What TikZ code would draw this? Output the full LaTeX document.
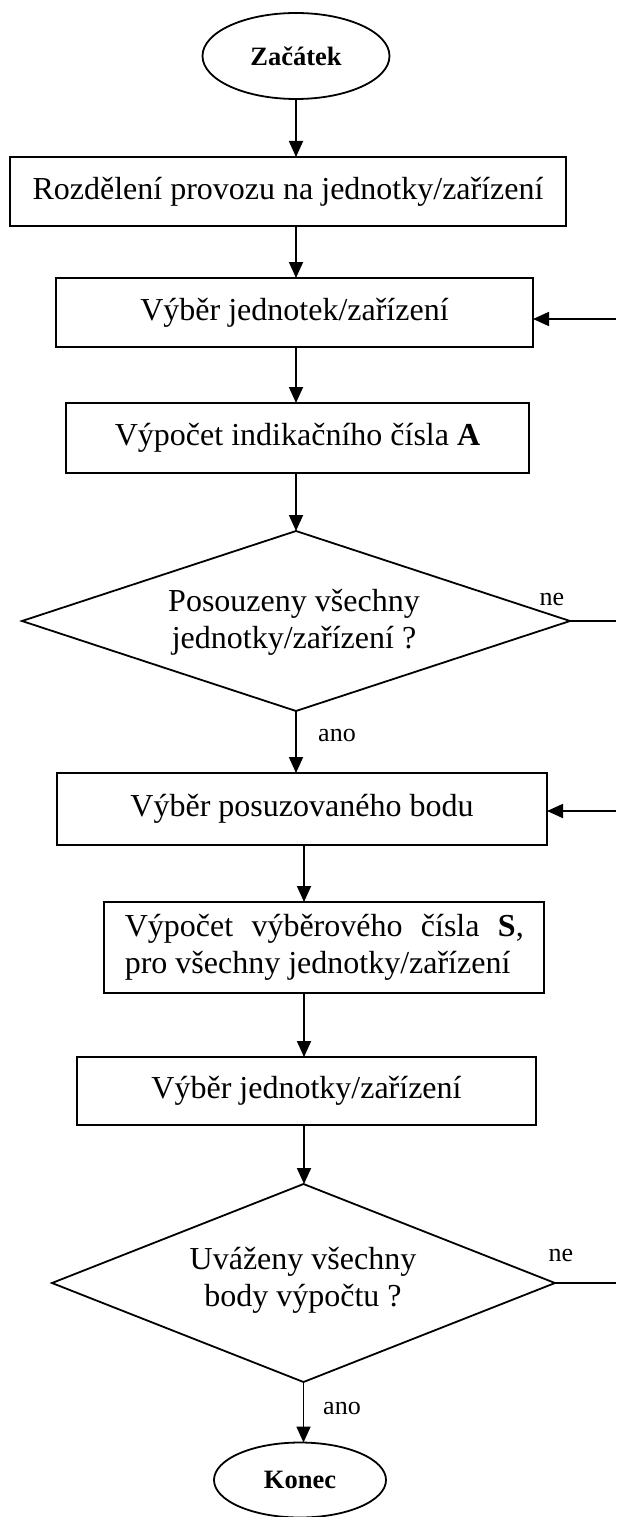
\documentclass[tikz,border=0pt]{standalone}
\usepackage{fontspec}
\setmainfont{Liberation Serif}
\usetikzlibrary{shapes.geometric,arrows.meta}
\begin{document}
\begin{tikzpicture}[x=1pt,y=-1pt,
  line width=1.8pt,
  every node/.style={inner sep=0pt, outer sep=0pt},
  procbox/.style={draw, rectangle, font=\fontsize{32}{37}\selectfont},
  terminal/.style={draw, ellipse, font=\fontsize{26.5}{30}\selectfont\bfseries},
  decision/.style={draw, diamond, aspect=3},
  qtext/.style={align=center, font=\fontsize{32}{37}\selectfont},
  lbl/.style={font=\fontsize{26}{30}\selectfont},
  arr/.style={-{Triangle[length=16pt,width=14pt]}},
]
\fill[white] (0,0) rectangle (616,1517);
\useasboundingbox (0,0) rectangle (616,1517);

% flow nodes
\node[terminal, minimum width=187pt, minimum height=86pt] (start) at (296,56) {Začátek};
\node[procbox, minimum width=556pt, minimum height=69pt] (b1) at (288,191.5) {Rozdělení provozu na jednotky/zařízení};
\node[procbox, minimum width=477pt, minimum height=69pt] (b2) at (294.5,312.5) {Výběr jednotek/zařízení};
\node[procbox, minimum width=463pt, minimum height=70pt] (b3) at (297.5,438) {Výpočet indikačního čísla \textbf{A}};
\node[decision, minimum width=548pt, minimum height=180pt] (d1) at (296,621) {};
\node[qtext] (q1) at (294,622) {Posouzeny všechny\\jednotky/zařízení ?};
\node[procbox, minimum width=490pt, minimum height=72pt] (b4) at (302,809) {Výběr posuzovaného bodu};
\node[procbox, minimum width=440pt, minimum height=91pt] (b5) at (324.25,947.5)
  {\parbox{399pt}{\makebox[399pt][s]{Výpočet výběrového čísla \textbf{S},}\\pro všechny jednotky/zařízení}};
\node[procbox, minimum width=459pt, minimum height=68pt] (b6) at (306.5,1091) {Výběr jednotky/zařízení};
\node[decision, minimum width=503pt, minimum height=198pt] (d2) at (303.5,1283) {};
\node[qtext] (q2) at (303,1280) {Uváženy všechny\\body výpočtu ?};
\node[terminal, minimum width=172pt, minimum height=75pt] (end) at (300,1480) {Konec};

% branch labels
\node[lbl] (ne1) at (552,599) {ne};
\node[lbl] (ne2) at (561,1255) {ne};
\node[lbl] (ano1) at (337,735) {ano};
\node[lbl] (ano2) at (342,1408) {ano};

% helper coordinates
\coordinate (edge) at (616,0);
\coordinate (colB) at (304,0);
\coordinate (in2) at (616,319);
\coordinate (in4) at (616,811);

% main flow
\draw[arr] (start.south) -- (start.south |- b1.north);
\draw[arr] (start.south |- b1.south) -- (start.south |- b2.north);
\draw[arr] (start.south |- b2.south) -- (start.south |- b3.north);
\draw[arr] (start.south |- b3.south) -- (d1.north);
\draw[arr] (d1.south) -- (d1.south |- b4.north);
\draw[arr] (b4.south -| colB) -- (b5.north -| colB);
\draw[arr] (b5.south -| colB) -- (b6.north -| colB);
\draw[arr] (b6.south -| colB) -- (d2.north -| colB);
\draw[arr] (d2.south) -- (d2.south |- end.north);

% loop-back connectors
\draw (d1.east) -- (d1.east -| edge);
\draw (d2.east) -- (d2.east -| edge);
\draw[arr] (in2) -- (in2 -| b2.east);
\draw[arr] (in4) -- (in4 -| b4.east);
\end{tikzpicture}
\end{document}
